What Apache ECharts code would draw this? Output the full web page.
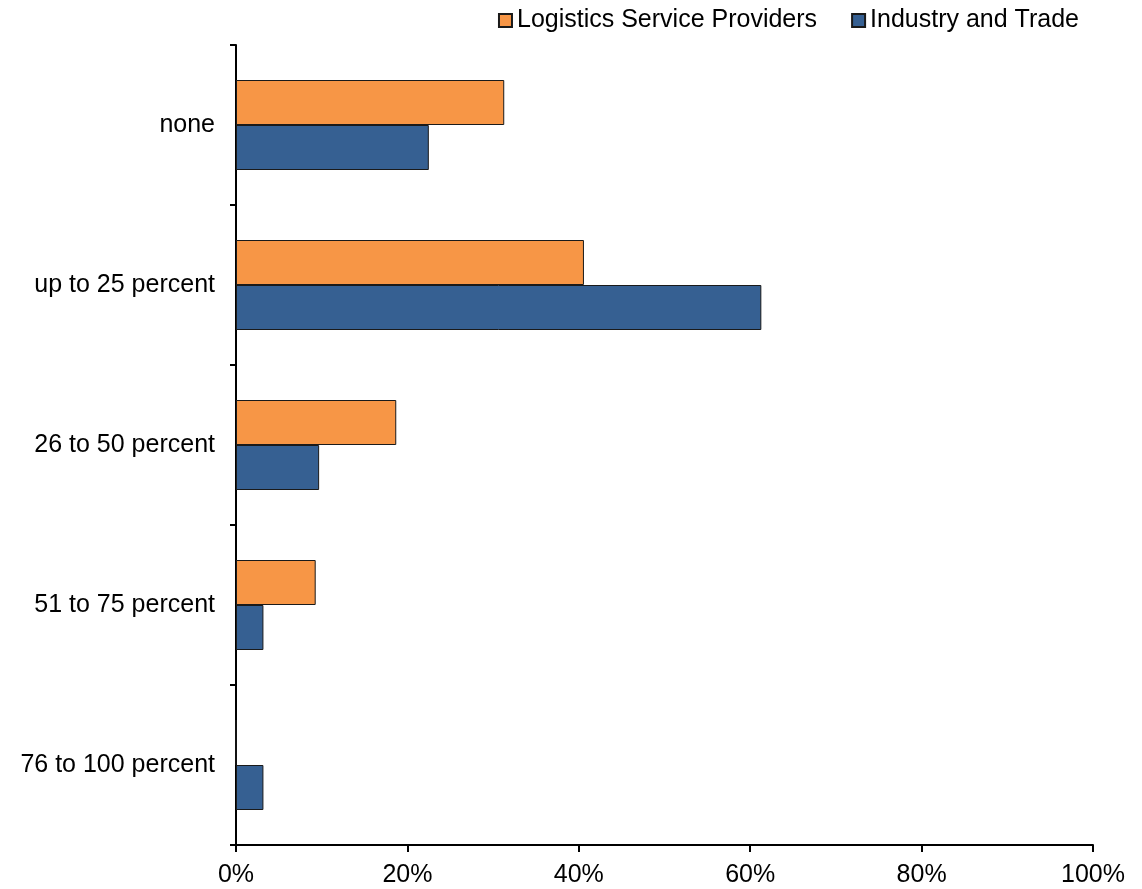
<!DOCTYPE html>
<html>
<head>
<meta charset="utf-8">
<script src="https://cdn.jsdelivr.net/npm/echarts@6/dist/echarts.min.js"></script>
<style>
  html, body { margin: 0; padding: 0; background: #fff; }
  #main { width: 1142px; height: 889px; }
</style>
</head>
<body>
<div id="main"></div>
<script>
// categories, top to bottom
var categories = ['none', 'up to 25 percent', '26 to 50 percent', '51 to 75 percent', '76 to 100 percent'];
// shares in percent
var logistics = [31.3, 40.6, 18.7, 9.3, 0];
var industry = [22.5, 61.3, 9.7, 3.2, 3.2];
var xTicks = [0, 20, 40, 60, 80, 100];

var myChart = echarts.init(document.getElementById('main'));
var font = 'Liberation Sans, Arial, sans-serif';

myChart.setOption({
  animation: false,
  textStyle: { fontFamily: font },
  legend: {
    right: 58,
    top: 3,
    itemWidth: 13,
    itemHeight: 13,
    itemGap: 34,
    icon: 'rect',
    textStyle: { fontSize: 25, color: '#000', fontFamily: font },
    data: ['Logistics Service Providers', 'Industry and Trade']
  },
  grid: { left: 236, right: 49, top: 45, bottom: 44, containLabel: false },
  xAxis: {
    type: 'value',
    min: xTicks[0],
    max: xTicks[xTicks.length - 1],
    interval: 20,
    splitLine: { show: false },
    axisLine: { show: true, lineStyle: { color: '#000', width: 2 } },
    axisTick: { show: true, length: 7, lineStyle: { color: '#000', width: 2 } },
    axisLabel: { formatter: '{value}%', fontSize: 25, color: '#000', margin: 18, fontFamily: font }
  },
  yAxis: {
    type: 'category',
    inverse: true,
    data: categories,
    axisLine: { show: true, lineStyle: { color: '#000', width: 2 } },
    axisTick: { show: true, length: 6, lineStyle: { color: '#000', width: 2 } },
    axisLabel: { fontSize: 25, color: '#000', margin: 21, fontFamily: font }
  },
  series: [
    {
      name: 'Logistics Service Providers',
      type: 'bar',
      data: logistics,
      barWidth: 45,
      barGap: '0%',
      itemStyle: { color: '#F79646', borderColor: '#1a1a1a', borderWidth: 1 }
    },
    {
      name: 'Industry and Trade',
      type: 'bar',
      data: industry,
      barWidth: 45,
      barGap: '0%',
      itemStyle: { color: '#366092', borderColor: '#1a1a1a', borderWidth: 1 }
    }
  ]
});
</script>
</body>
</html>
